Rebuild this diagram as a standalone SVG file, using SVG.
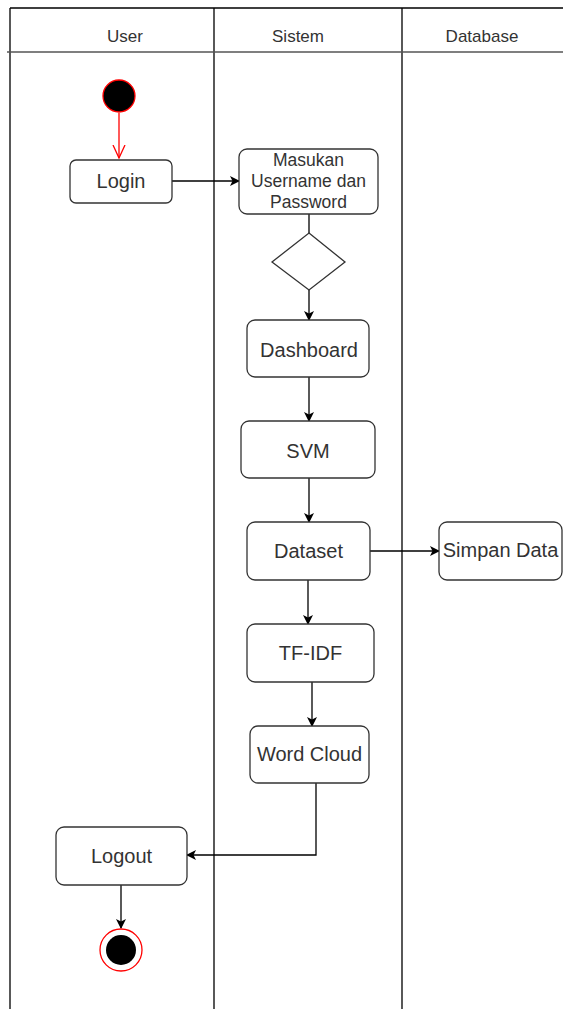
<svg xmlns="http://www.w3.org/2000/svg" width="563" height="1009" viewBox="0 0 563 1009">
<defs>
<marker id="arr" viewBox="0 0 10 10" refX="9" refY="5" markerWidth="10" markerHeight="10" markerUnits="userSpaceOnUse" orient="auto">
<path d="M0,0 L10,5 L0,10 L2.5,5 Z" fill="#000"/>
</marker>
<marker id="open" viewBox="0 0 14 14" refX="13" refY="7" markerWidth="14" markerHeight="14" markerUnits="userSpaceOnUse" orient="auto">
<path d="M0,1 L13,7 L0,13" fill="none" stroke="#ff0000" stroke-width="1.3"/>
</marker>
<style>
.lane{stroke:#000;stroke-width:1.3;fill:none}
.box{fill:#fff;stroke:#333;stroke-width:1.3}
.t{font-family:"Liberation Sans",Arial,sans-serif;fill:#333;text-anchor:middle}
.h{font-size:17px}
.n{font-size:20px}
.m{font-size:17.5px}
.c{stroke:#000;stroke-width:1.3;fill:none}
</style>
</defs>
<g id="lanes">
<path class="lane" d="M10,8 H563 M10,8 V1009 M214,8 V1009 M402,8 V1009"/>
<path d="M7,52 H563" stroke="#555" stroke-width="1.6"/>
<text class="t h" x="125" y="42">User</text>
<text class="t h" x="298" y="42">Sistem</text>
<text class="t h" x="482" y="42">Database</text>
</g>
<g id="connectors">
<path d="M119,113 V158" stroke="#ff0000" stroke-width="1.3" fill="none" marker-end="url(#open)"/>
<path class="c" d="M172,181 H239" marker-end="url(#arr)"/>
<path class="c" d="M309,214 V233"/>
<path class="c" d="M309,290 V320" marker-end="url(#arr)"/>
<path class="c" d="M309,377 V421" marker-end="url(#arr)"/>
<path class="c" d="M309,478 V522" marker-end="url(#arr)"/>
<path class="c" d="M370,551 H439" marker-end="url(#arr)"/>
<path class="c" d="M308,580 V624" marker-end="url(#arr)"/>
<path class="c" d="M312,682 V726" marker-end="url(#arr)"/>
<path class="c" d="M316,783 V855 H187" marker-end="url(#arr)"/>
<path class="c" d="M121,885 V928" marker-end="url(#arr)"/>
</g>
<g id="start">
<circle cx="119" cy="96" r="16" fill="#000" stroke="#ff0000" stroke-width="1.3"/>
</g>
<g id="login">
<rect class="box" x="70" y="160" width="102" height="43" rx="6"/>
<text class="t n" x="121" y="188">Login</text>
</g>
<g id="masukan">
<rect class="box" x="239" y="149" width="139" height="65" rx="8"/>
<text class="t m" x="308.5" y="166">Masukan</text>
<text class="t m" x="308.5" y="187">Username dan</text>
<text class="t m" x="308.5" y="208">Password</text>
</g>
<g id="decision">
<path class="box" d="M309,233 L345,262 L309,290 L272,262 Z"/>
</g>
<g id="dashboard">
<rect class="box" x="247" y="320" width="122" height="57" rx="8"/>
<text class="t n" x="309" y="357">Dashboard</text>
</g>
<g id="svm">
<rect class="box" x="241" y="421" width="134" height="57" rx="8"/>
<text class="t n" x="308" y="458">SVM</text>
</g>
<g id="dataset">
<rect class="box" x="247" y="522" width="123" height="58" rx="8"/>
<text class="t n" x="308.5" y="558">Dataset</text>
</g>
<g id="simpan">
<rect class="box" x="439" y="522" width="123" height="58" rx="8"/>
<text class="t n" x="500.5" y="557">Simpan Data</text>
</g>
<g id="tfidf">
<rect class="box" x="247" y="624" width="127" height="58" rx="8"/>
<text class="t n" x="310.5" y="660">TF-IDF</text>
</g>
<g id="wordcloud">
<rect class="box" x="250" y="726" width="119" height="57" rx="8"/>
<text class="t n" x="309.5" y="761">Word Cloud</text>
</g>
<g id="logout">
<rect class="box" x="56" y="827" width="131" height="58" rx="8"/>
<text class="t n" x="121.5" y="863">Logout</text>
</g>
<g id="end">
<circle cx="121" cy="950" r="21" fill="#fff" stroke="#ff0000" stroke-width="1.3"/>
<circle cx="121" cy="950" r="15" fill="#000"/>
</g>
</svg>
